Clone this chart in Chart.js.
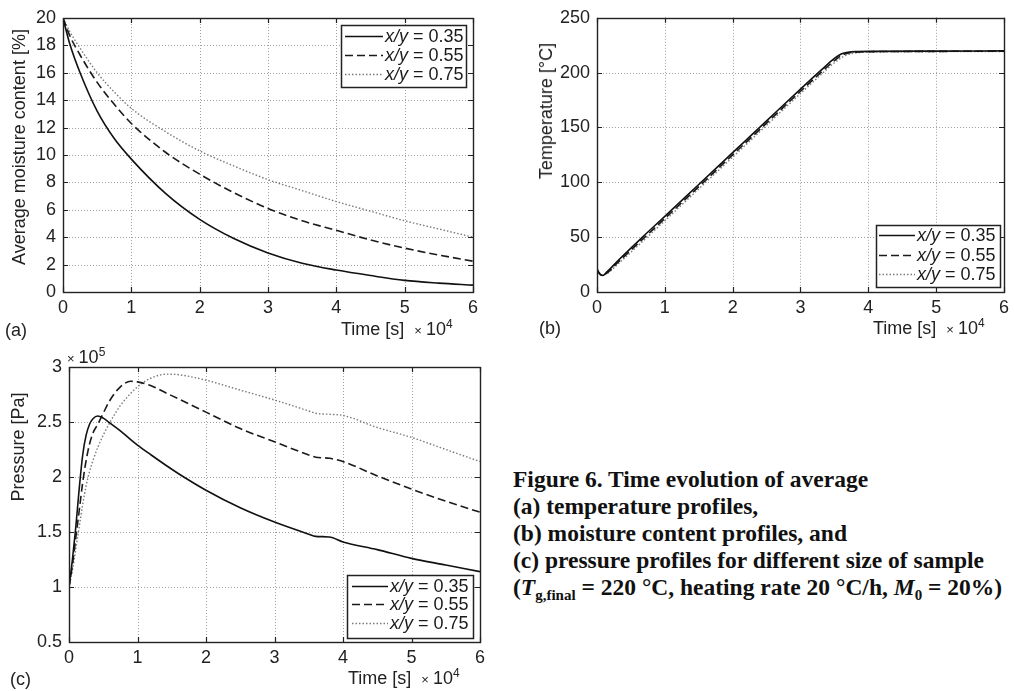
<!DOCTYPE html>
<html>
<head>
<meta charset="utf-8">
<script src="https://cdn.jsdelivr.net/npm/chart.js@4.4.1/dist/chart.umd.min.js"></script>
<style>
html,body{margin:0;padding:0;background:#fff;}
#page{position:relative;width:1014px;height:691px;overflow:hidden;background:#fff;font-family:'Liberation Sans',Arial,sans-serif;color:#222;}
canvas{position:absolute;}
.t{position:absolute;font-size:18px;white-space:nowrap;line-height:18px;}
.t .x{font-size:13px;margin-left:10px;margin-right:4px;}
.t sup{font-size:12px;line-height:0;vertical-align:7px;}
.yt{position:absolute;font-size:18px;white-space:nowrap;line-height:18px;transform:translate(-50%,-50%) rotate(-90deg);}
#cap{position:absolute;left:513px;top:466px;font-family:'Liberation Serif','Times New Roman',serif;font-weight:bold;font-size:23.5px;line-height:27px;color:#111;white-space:nowrap;}
#cap sub{font-size:15px;line-height:0;vertical-align:-5px;}
</style>
</head>
<body>
<div id="page">
  <canvas id="ca" width="500" height="345" style="left:0;top:0"></canvas>
  <canvas id="cb" width="514" height="345" style="left:500px;top:0"></canvas>
  <canvas id="cc" width="500" height="346" style="left:0;top:345px"></canvas>

  <div class="yt" style="left:18.5px;top:147px">Average moisture content [%]</div>
  <div class="yt" style="left:546px;top:111px">Temperature [°C]</div>
  <div class="yt" style="left:17.5px;top:447px">Pressure [Pa]</div>

  <div class="t" style="left:5px;top:321px">(a)</div>
  <div class="t" style="left:341px;top:320px">Time [s]<span class="x">×</span>10<sup>4</sup></div>
  <div class="t" style="left:539px;top:319px">(b)</div>
  <div class="t" style="left:873px;top:319px">Time [s]<span class="x">×</span>10<sup>4</sup></div>
  <div class="t" style="left:10px;top:670px">(c)</div>
  <div class="t" style="left:348px;top:669px">Time [s]<span class="x">×</span>10<sup>4</sup></div>
  <div class="t" style="left:67px;top:348px"><span class="x" style="margin-left:0">×</span>10<sup>5</sup></div>

  <div id="cap">Figure 6. Time evolution of average<br>(a) temperature profiles,<br>(b) moisture content profiles, and<br>(c) pressure profiles for different size of sample<br>(<i>T</i><sub>g,final</sub> = 220 °C, heating rate 20 °C/h, <i>M</i><sub>0</sub> = 20%)</div>
</div>
<script>
// ---------- DATA ----------
const seriesLabels = ['0.35', '0.55', '0.75'];
const xTicks = [0, 1, 2, 3, 4, 5, 6]; // time x 10^4 s

// (a) average moisture content [%]
const timeA = [0, 0.1, 0.25, 0.5, 0.75, 1, 1.5, 2, 2.5, 3, 3.5, 4, 4.5, 5, 5.5, 6];
const moist035 = [20, 18.1, 16.0, 13.2, 11.2, 9.7, 7.2, 5.3, 3.9, 2.85, 2.1, 1.6, 1.2, 0.85, 0.65, 0.5];
const moist055 = [20, 18.7, 17.3, 15.3, 13.7, 12.3, 10.2, 8.6, 7.25, 6.1, 5.2, 4.5, 3.8, 3.2, 2.7, 2.25];
const moist075 = [20, 19.0, 17.8, 16.0, 14.6, 13.4, 11.7, 10.3, 9.2, 8.2, 7.4, 6.6, 5.9, 5.2, 4.6, 4.0];
const moistTicks = [0, 2, 4, 6, 8, 10, 12, 14, 16, 18, 20];

// (b) temperature [°C]
const timeB = [0, 0.03, 0.08, 0.15, 0.3, 0.67, 1, 1.5, 2, 2.5, 3, 3.3, 3.5, 3.6, 3.7, 3.85, 4, 5, 6];
const temp035 = [21, 17, 15, 18.5, 28, 50, 69, 98, 127, 156, 185, 202, 213, 217, 218.6, 219.2, 219.4, 219.6, 219.8];
const temp055 = [21, 17.5, 15.2, 17.5, 26.5, 48, 67, 96, 125, 154, 183, 200, 211, 215.5, 217.8, 218.8, 219.1, 219.4, 219.6];
const temp075 = [21, 18, 15.5, 16.8, 25, 46, 65, 94, 123, 152, 181, 198, 209, 213.5, 216.5, 218.2, 218.7, 219.1, 219.3];
const tempTicks = [0, 50, 100, 150, 200, 250];

// (c) pressure [x 10^5 Pa]
const timeC = [0, 0.05, 0.1, 0.15, 0.2, 0.25, 0.3, 0.35, 0.42, 0.5, 0.6, 0.75, 0.9, 1, 1.2, 1.43, 1.6, 2, 2.5, 3, 3.5, 3.6, 3.8, 4, 4.5, 5, 5.5, 6];
const pres035 = [1.0, 1.25, 1.55, 1.9, 2.2, 2.38, 2.48, 2.53, 2.555, 2.535, 2.49, 2.42, 2.34, 2.29, 2.2, 2.1, 2.03, 1.88, 1.72, 1.59, 1.48, 1.46, 1.455, 1.41, 1.34, 1.26, 1.2, 1.14];
const pres055 = [1.0, 1.2, 1.45, 1.7, 1.95, 2.15, 2.3, 2.4, 2.48, 2.58, 2.7, 2.82, 2.87, 2.865, 2.83, 2.76, 2.71, 2.59, 2.44, 2.32, 2.2, 2.18, 2.17, 2.14, 2.01, 1.89, 1.78, 1.68];
const pres075 = [1.0, 1.15, 1.35, 1.55, 1.75, 1.92, 2.05, 2.15, 2.27, 2.38, 2.5, 2.65, 2.76, 2.82, 2.9, 2.935, 2.93, 2.88, 2.79, 2.7, 2.6, 2.58, 2.57, 2.56, 2.45, 2.36, 2.25, 2.14];
const presTicks = [0.5, 1, 1.5, 2, 2.5, 3];

// ---------- STYLE ----------
const FONT = "'Liberation Sans', Arial, sans-serif";
const lineStyles = [
  {color: '#111', width: 1.6, dash: []},
  {color: '#1a1a1a', width: 1.6, dash: [8, 4]},
  {color: '#7a7a7a', width: 1.4, dash: [1.5, 2]}
];

function pts(xs, ys) { return xs.map((x, i) => ({x: x, y: ys[i]})); }

const frame = {
  id: 'frame',
  beforeDatasetsDraw(chart) {
    const {ctx, chartArea: a, scales: {x, y}} = chart;
    ctx.save();
    ctx.strokeStyle = '#a0a0a0';
    ctx.lineWidth = 1;
    ctx.setLineDash([1, 2]);
    x.ticks.forEach(t => {
      const px = Math.round(x.getPixelForValue(t.value)) + 0.5;
      if (px <= a.left + 1 || px >= a.right - 1) return;
      ctx.beginPath(); ctx.moveTo(px, a.top); ctx.lineTo(px, a.bottom); ctx.stroke();
    });
    y.ticks.forEach(t => {
      const py = Math.round(y.getPixelForValue(t.value)) + 0.5;
      if (py <= a.top + 1 || py >= a.bottom - 1) return;
      ctx.beginPath(); ctx.moveTo(a.left, py); ctx.lineTo(a.right, py); ctx.stroke();
    });
    ctx.restore();
  },
  afterDatasetsDraw(chart, args, opts) {
    const {ctx, chartArea: a, scales: {x, y}} = chart;
    ctx.save();
    ctx.setLineDash([]);
    ctx.strokeStyle = '#222';
    ctx.lineWidth = 1.2;
    const tl = 5;
    x.ticks.forEach(t => {
      const px = Math.round(x.getPixelForValue(t.value)) + 0.5;
      ctx.beginPath();
      ctx.moveTo(px, a.bottom); ctx.lineTo(px, a.bottom - tl);
      ctx.moveTo(px, a.top); ctx.lineTo(px, a.top + tl);
      ctx.stroke();
    });
    y.ticks.forEach(t => {
      const py = Math.round(y.getPixelForValue(t.value)) + 0.5;
      ctx.beginPath();
      ctx.moveTo(a.left, py); ctx.lineTo(a.left + tl, py);
      ctx.moveTo(a.right, py); ctx.lineTo(a.right - tl, py);
      ctx.stroke();
    });
    ctx.lineWidth = 1.4;
    ctx.strokeRect(Math.round(a.left) + 0.5, Math.round(a.top) + 0.5, Math.round(a.right - a.left), Math.round(a.bottom - a.top));

    // legend
    const L = opts.legend;
    if (L) {
      ctx.fillStyle = '#fff';
      ctx.fillRect(L.x, L.y, L.w, L.h);
      ctx.strokeStyle = '#222';
      ctx.lineWidth = 1.5;
      ctx.strokeRect(L.x + 0.5, L.y + 0.5, L.w, L.h);
      chart.data.datasets.forEach((ds, i) => {
        const ry = L.rows[i];
        ctx.save();
        ctx.strokeStyle = ds.borderColor;
        ctx.lineWidth = ds.borderWidth;
        ctx.setLineDash(ds.borderDash || []);
        ctx.beginPath(); ctx.moveTo(L.lx1, ry + 0.5); ctx.lineTo(L.lx2, ry + 0.5); ctx.stroke();
        ctx.restore();
        ctx.fillStyle = '#1a1a1a';
        ctx.textBaseline = 'middle';
        ctx.textAlign = 'left';
        ctx.font = 'italic 18px ' + FONT;
        ctx.fillText('x/y', L.tx, ry + 1);
        const w = ctx.measureText('x/y').width;
        ctx.font = '18px ' + FONT;
        ctx.fillText(' = ' + seriesLabels[i], L.tx + w, ry + 1);
      });
    }
    ctx.restore();
  }
};

function makeChart(id, xs, ys3, yTicks, padding, legend) {
  const datasets = ys3.map((ys, i) => ({
    label: 'x/y = ' + seriesLabels[i],
    data: pts(xs, ys),
    borderColor: lineStyles[i].color,
    borderWidth: lineStyles[i].width,
    borderDash: lineStyles[i].dash,
    pointRadius: 0,
    fill: false,
    cubicInterpolationMode: 'monotone',
    tension: 0.4
  }));
  return new Chart(document.getElementById(id), {
    type: 'line',
    data: {datasets: datasets},
    options: {
      responsive: false,
      animation: false,
      devicePixelRatio: 1,
      events: [],
      layout: {padding: padding},
      plugins: {legend: {display: false}, tooltip: {enabled: false}, frame: {legend: legend}},
      scales: {
        x: {
          type: 'linear', min: xTicks[0], max: xTicks[xTicks.length - 1],
          afterBuildTicks: s => { s.ticks = xTicks.map(v => ({value: v})); },
          afterFit: s => { s.height = 30; },
          grid: {display: false, drawTicks: false},
          border: {display: false},
          ticks: {autoSkip: false, maxRotation: 0, padding: 5, color: '#222', font: {family: FONT, size: 18}, callback: v => String(v)}
        },
        y: {
          type: 'linear', min: yTicks[0], max: yTicks[yTicks.length - 1],
          afterBuildTicks: s => { s.ticks = yTicks.map(v => ({value: v})); },
          afterFit: s => { s.width = 50; },
          grid: {display: false, drawTicks: false},
          border: {display: false},
          ticks: {autoSkip: false, padding: 7, color: '#222', font: {family: FONT, size: 18}, callback: v => String(+(+v).toFixed(2))}
        }
      }
    },
    plugins: [frame]
  });
}

makeChart('ca', timeA, [moist035, moist055, moist075], moistTicks,
  {left: 13, top: 18, right: 27, bottom: 23},
  {x: 341, y: 25, w: 125, h: 62, rows: [36, 55, 74], lx1: 345, lx2: 383, tx: 385});

makeChart('cb', timeB, [temp035, temp055, temp075], tempTicks,
  {left: 47, top: 17, right: 7, bottom: 23},
  {x: 376, y: 225, w: 124, h: 62, rows: [235, 255, 274], lx1: 379, lx2: 415, tx: 417});

makeChart('cc', timeC, [pres035, pres055, pres075], presTicks,
  {left: 19, top: 22, right: 20, bottom: 19},
  {x: 347, y: 230, w: 126, h: 63, rows: [241, 259, 278], lx1: 352, lx2: 388, tx: 390});
</script>
</body>
</html>
